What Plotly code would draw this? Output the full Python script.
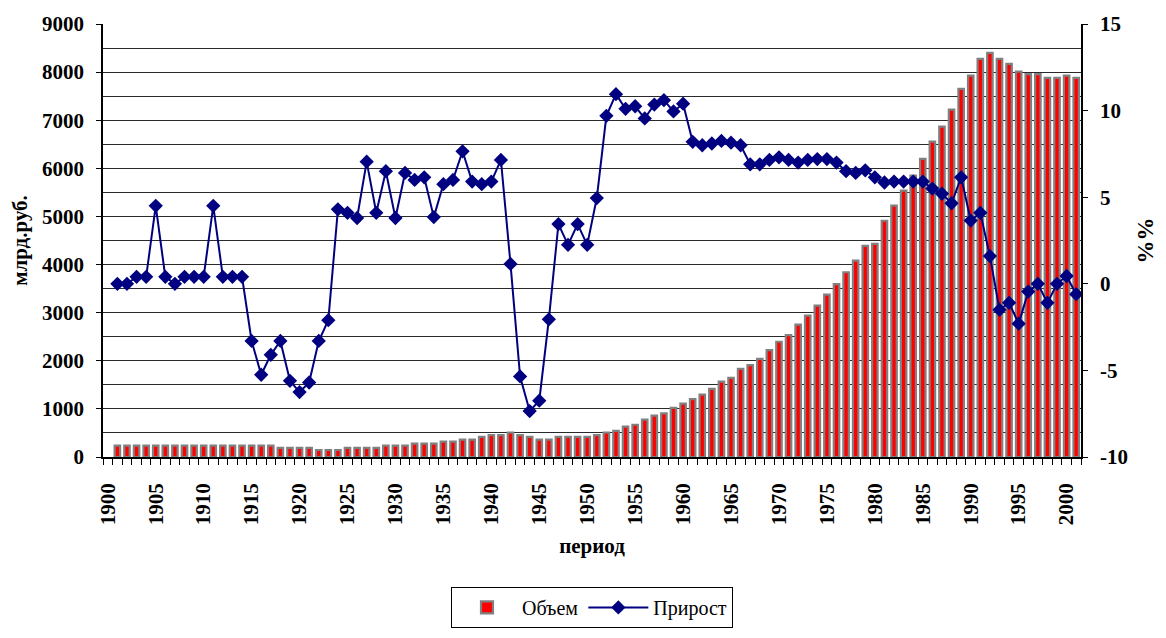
import plotly.graph_objects as go

years = list(range(1901, 2002))

volume = [
    235, 235, 235, 235, 235, 235, 235, 235, 235, 235,   # 1901-1910
    235, 235, 235, 235, 235, 235, 235, 190, 190, 190,   # 1911-1920
    190, 145, 145, 145, 190, 190, 190, 190, 235, 235,   # 1921-1930
    235, 280, 280, 280, 320, 320, 360, 360, 420, 455,   # 1931-1940
    455, 505, 455, 420, 360, 360, 420, 420, 420, 420,   # 1941-1950
    455, 505, 545, 630, 670, 775, 860, 905, 1020, 1110, # 1951-1960
    1205, 1295, 1415, 1565, 1645, 1830, 1910, 2040, 2220, 2395,  # 1961-1970
    2535, 2750, 2940, 3145, 3375, 3595, 3840, 4080, 4390, 4430,  # 1971-1980
    4910, 5225, 5535, 5850, 6195, 6555, 6865, 7220, 7650, 7925,  # 1981-1990
    8275, 8400, 8275, 8170, 8010, 7960, 7960, 7880, 7880, 7925,  # 1991-2000
    7880,                                                        # 2001
]

growth = [
    0.0, 0.0, 0.4, 0.4, 4.5, 0.4, 0.0, 0.4, 0.4, 0.4,          # 1901-1910
    4.5, 0.4, 0.4, 0.4, -3.3, -5.25, -4.1, -3.3, -5.6, -6.25,  # 1911-1920
    -5.7, -3.3, -2.1, 4.3, 4.1, 3.8, 7.05, 4.1, 6.5, 3.8,      # 1921-1930
    6.4, 6.0, 6.15, 3.85, 5.75, 6.0, 7.65, 5.9, 5.75, 5.9,     # 1931-1940
    7.15, 1.15, -5.35, -7.35, -6.75, -2.05, 3.45, 2.25, 3.45, 2.25,  # 1941-1950
    4.95, 9.7, 10.95, 10.1, 10.25, 9.55, 10.35, 10.6, 9.95, 10.4,    # 1951-1960
    8.2, 8.0, 8.1, 8.25, 8.15, 8.0, 6.9, 6.9, 7.15, 7.3,       # 1961-1970
    7.15, 7.0, 7.15, 7.2, 7.2, 7.0, 6.5, 6.4, 6.55, 6.15,      # 1971-1980
    5.85, 5.9, 5.9, 5.9, 5.9, 5.5, 5.2, 4.65, 6.15, 3.65,      # 1981-1990
    4.1, 1.6, -1.5, -1.1, -2.3, -0.45, 0.0, -1.1, 0.0, 0.45,   # 1991-2000
    -0.6,                                                      # 2001
]

tick_years = list(range(1900, 2001, 5))
left_ticks = list(range(0, 9001, 1000))
right_ticks = [-10, -5, 0, 5, 10, 15]

FONT = "Liberation Serif, Times New Roman, serif"
TICKFONT = dict(family=FONT, size=21, color="black")

fig = go.Figure()
fig.add_trace(go.Bar(
    x=years, y=volume, name="Объем", width=0.57,
    marker=dict(color="#FF0000", line=dict(color="#808080", width=2.2)),
    yaxis="y",
))
fig.add_trace(go.Scatter(
    x=years, y=growth, name="Прирост", mode="lines+markers",
    line=dict(color="#000080", width=2),
    marker=dict(symbol="diamond", size=11, color="#000080"),
    yaxis="y2",
))

fig.update_layout(
    width=1150, height=622,
    margin=dict(l=95, r=77, t=16, b=173, autoexpand=False),
    paper_bgcolor="white", plot_bgcolor="white",
    font=dict(family=FONT, color="black"),
    showlegend=True,
    legend=dict(
        orientation="h", x=0.5, xanchor="center", y=-0.30, yanchor="top",
        bordercolor="black", borderwidth=1,
        font=dict(family=FONT, size=20, color="black"),
        itemwidth=60,
    ),
    xaxis=dict(
        range=[1899.5, 2001.5], automargin=False,
        tickmode="array", tickvals=tick_years,
        ticktext=[f"<b>{y}</b>" for y in tick_years],
        tickangle=-90, ticks="", ticklabelstandoff=16,
        tickfont=TICKFONT,
        showline=True, linecolor="black", linewidth=1.5,
        showgrid=False, zeroline=False,
        minor=dict(tick0=1899.5, dtick=1, ticks="outside", ticklen=6,
                   tickcolor="black", tickwidth=1, showgrid=False),
        title=dict(text="<b>период</b>", font=dict(family=FONT, size=21, color="black"),
                   standoff=14),
    ),
    yaxis=dict(
        range=[0, 9000], automargin=False,
        tickmode="array", tickvals=left_ticks,
        ticktext=[f"<b>{v}</b>" for v in left_ticks],
        ticks="outside", ticklen=5, tickcolor="black",
        tickfont=TICKFONT, ticklabelstandoff=8,
        showline=True, linecolor="black", linewidth=1.5,
        showgrid=True, gridcolor="#2a2a2a", gridwidth=1,
        minor=dict(dtick=500, tick0=0, showgrid=True, gridcolor="#2a2a2a", gridwidth=1),
        zeroline=False,
        title=dict(text="<b>млрд.руб.</b>", font=dict(family=FONT, size=21, color="black"),
                   standoff=10),
    ),
    yaxis2=dict(
        range=[-10, 15], automargin=False,
        tickmode="array", tickvals=right_ticks,
        ticktext=[f"<b>{v}</b>" for v in right_ticks],
        overlaying="y", side="right",
        ticks="outside", ticklen=5, tickcolor="black",
        tickfont=TICKFONT, ticklabelstandoff=8,
        showline=True, linecolor="black", linewidth=1.5,
        showgrid=False, zeroline=False,
        title=dict(text="<b>%%</b>", font=dict(family=FONT, size=23, color="black"),
                   standoff=11),
    ),
)

fig.write_html("out.html")
